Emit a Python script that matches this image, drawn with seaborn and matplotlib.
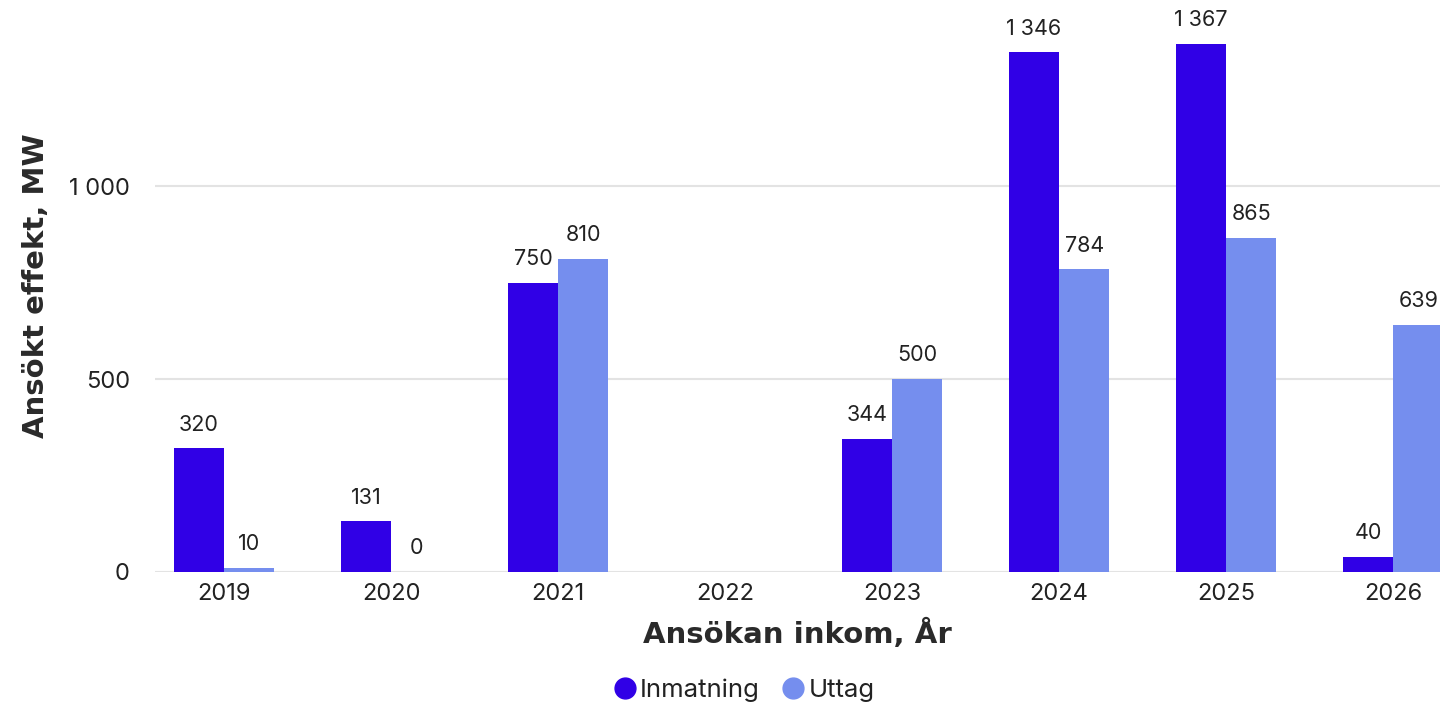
import numpy as np
import pandas as pd
import matplotlib
matplotlib.use("Agg")
import matplotlib.pyplot as plt
from matplotlib.lines import Line2D
import seaborn as sns

years = ["2019", "2020", "2021", "2022", "2023", "2024", "2025", "2026"]
inmatning = [320, 131, 750, np.nan, 344, 1346, 1367, 40]
uttag = [10, 0, 810, np.nan, 500, 784, 865, 639]
series = ["Inmatning", "Uttag"]
colors = ["#3000e6", "#758eee"]

df = pd.DataFrame({
    "year": years * 2,
    "serie": [series[0]] * len(years) + [series[1]] * len(years),
    "value": inmatning + uttag,
})

sns.set_style("white")
plt.rcParams["font.family"] = ["Inter", "DejaVu Sans"]

fig = plt.figure(figsize=(14.4, 7.06), dpi=100)
ax = fig.add_axes([155 / 1440, 134 / 706, 1285 / 1440, 572 / 706])

sns.barplot(data=df.dropna(), x="year", y="value", hue="serie", order=years,
            hue_order=series, palette=colors, width=0.6, saturation=1,
            errorbar=None, legend=False, linewidth=0, ax=ax)

for c in ax.containers:
    labels = [f"{h:,.0f}".replace(",", " ") for h in c.datavalues]
    ax.bar_label(c, labels=labels, padding=10, fontsize=15.5, color="#222222")

ax.set_xlim(-0.413, 7.28)
ax.set_ylim(0, 1482)
ax.set_yticks([0, 500, 1000])
ax.set_yticklabels(["0", "500", "1 000"])
ax.yaxis.grid(True, color="#e3e3e3", linewidth=1.5)
ax.set_axisbelow(True)
for s in ax.spines.values():
    s.set_visible(False)
ax.tick_params(axis="both", length=0, labelsize=17, labelcolor="#222222")
ax.tick_params(axis="y", pad=18)
ax.tick_params(axis="x", pad=8)

ax.set_xlabel("Ansökan inkom, År", fontsize=21, fontweight="bold",
              family=["DejaVu Sans"], color="#2a2a2a", labelpad=10)
ax.set_ylabel("Ansökt effekt, MW", fontsize=21, fontweight="bold",
              family=["DejaVu Sans"], color="#2a2a2a", labelpad=14)

handles = [Line2D([], [], marker="o", linestyle="", markersize=15,
                  markerfacecolor=col, markeredgecolor=col) for col in colors]
fig.legend(handles, series, loc="center", bbox_to_anchor=(737 / 1440, 1 - 690 / 706),
           ncol=2, frameon=False, fontsize=18.5, handletextpad=-0.4,
           columnspacing=0.3, labelcolor="#222222")

fig.savefig("out.png", dpi=100)
